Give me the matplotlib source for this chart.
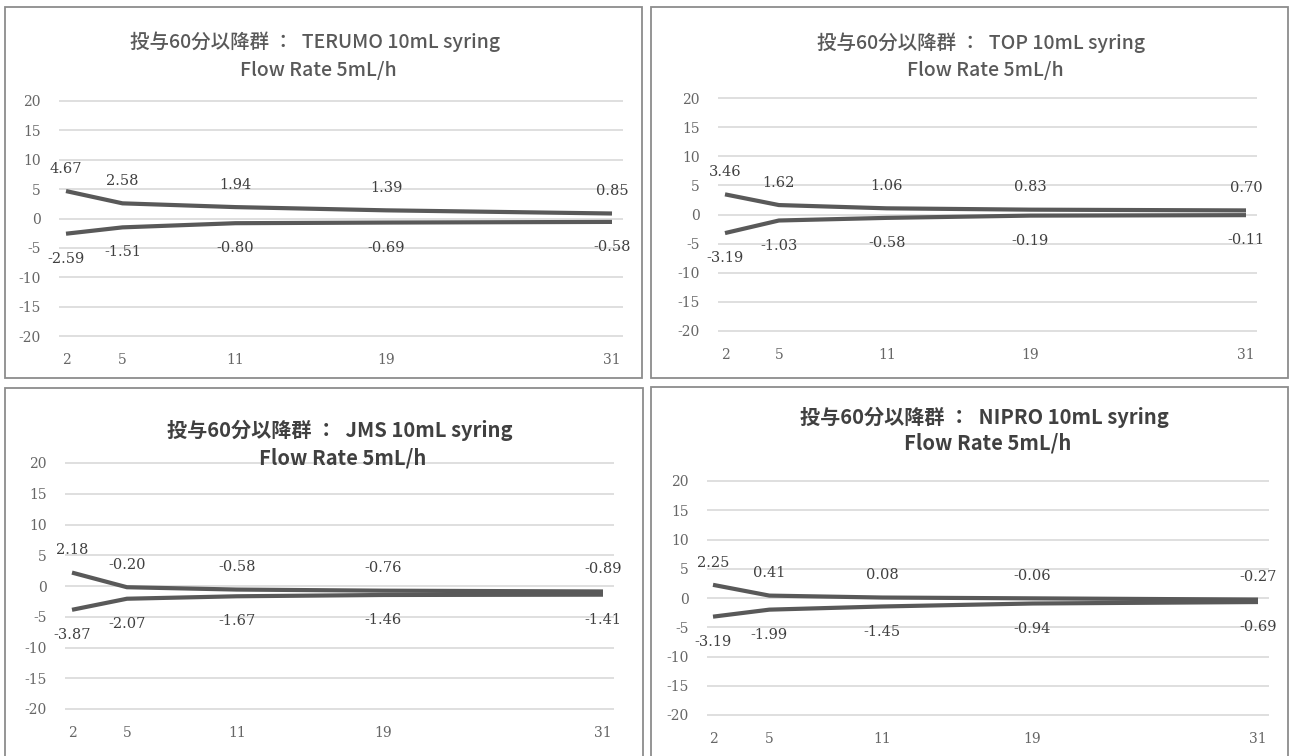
import matplotlib
matplotlib.use("Agg")
import matplotlib.pyplot as plt

plt.rcParams['axes.unicode_minus'] = False

W, H = 1290, 756

# data
days = [2, 5, 11, 19, 31]

terumo_upper = [4.67, 2.58, 1.94, 1.39, 0.85]
terumo_lower = [-2.59, -1.51, -0.80, -0.69, -0.58]
top_upper = [3.46, 1.62, 1.06, 0.83, 0.70]
top_lower = [-3.19, -1.03, -0.58, -0.19, -0.11]
jms_upper = [2.18, -0.20, -0.58, -0.76, -0.89]
jms_lower = [-3.87, -2.07, -1.67, -1.46, -1.41]
nipro_upper = [2.25, 0.41, 0.08, -0.06, -0.27]
nipro_lower = [-3.19, -1.99, -1.45, -0.94, -0.69]

titles = ['投与60分以降群 ：  TERUMO 10mL syring',
          '投与60分以降群 ：  TOP 10mL syring',
          '投与60分以降群 ：  JMS 10mL syring',
          '投与60分以降群 ：  NIPRO 10mL syring']
subtitle = 'Flow Rate 5mL/h'
yticks = [-20, -15, -10, -5, 0, 5, 10, 15, 20]

series = [(terumo_upper, terumo_lower), (top_upper, top_lower),
          (jms_upper, jms_lower), (nipro_upper, nipro_lower)]

# layout in pixels: border box, grid x extent, x of day 2 / day 31, y of +20 / -20, title centres
layout = [
    dict(box=(5, 7, 642, 378), gx=(59, 623), xp=(66, 612), yp=(101, 336),
         t1=(315, 42), t2=(318, 70), bold=False),
    dict(box=(651, 7, 1288, 378), gx=(718, 1257), xp=(725, 1246), yp=(98, 331),
         t1=(981, 43), t2=(985, 71), bold=False),
    dict(box=(5, 388, 643, 760), gx=(65, 614), xp=(72, 603), yp=(463, 709),
         t1=(340, 430), t2=(343, 458), bold=True),
    dict(box=(651, 387, 1288, 760), gx=(707, 1269), xp=(713, 1258), yp=(481, 715),
         t1=(984, 417), t2=(988, 443), bold=True),
]

fig = plt.figure(figsize=(W / 100, H / 100), dpi=100)

line_color = '#595959'
tick_color = '#666666'
label_color = '#404040'
title_fam = ['Noto Sans CJK JP', 'DejaVu Sans']
num_fam = ['DejaVu Serif']

for (upper, lower), title, lay in zip(series, titles, layout):
    bx0, by0, bx1, by1 = lay['box']
    fig.add_artist(plt.Rectangle((bx0 / W, 1 - by1 / H), (bx1 - bx0) / W, (by1 - by0) / H,
                                 transform=fig.transFigure, fill=False,
                                 ec='#8c8c8c', lw=1.3))

    gx0, gx1 = lay['gx']
    x2, x31 = lay['xp']
    y20, ym20 = lay['yp']
    sx = (x31 - x2) / (days[-1] - days[0])
    sy = (ym20 - y20) / 40
    top_px = y20 - sy
    bot_px = ym20 + sy
    ax = fig.add_axes([gx0 / W, 1 - bot_px / H, (gx1 - gx0) / W, (bot_px - top_px) / H])
    ax.set_xlim(days[0] - (x2 - gx0) / sx, days[0] + (gx1 - x2) / sx)
    ax.set_ylim(-21, 21)

    ax.plot(days, upper, color=line_color, lw=3, solid_capstyle='butt', zorder=3)
    ax.plot(days, lower, color=line_color, lw=3, solid_capstyle='butt', zorder=3)

    for x, v in zip(days, upper):
        ax.annotate(f'{v:.2f}', (x, v), xytext=(0, 11), textcoords='offset points',
                    ha='center', va='bottom', fontsize=10.5, color=label_color,
                    family=num_fam, zorder=4)
    for x, v in zip(days, lower):
        ax.annotate(f'{v:.2f}', (x, v), xytext=(0, -13), textcoords='offset points',
                    ha='center', va='top', fontsize=10.5, color=label_color,
                    family=num_fam, zorder=4)

    ax.set_yticks(yticks)
    ax.set_xticks(days)
    ax.set_xticklabels([str(d) for d in days])
    ax.yaxis.grid(True, color='#d9d9d9', lw=1.2)
    ax.set_axisbelow(True)
    for s in ax.spines.values():
        s.set_visible(False)
    ax.tick_params(axis='y', length=0, pad=13, labelsize=10, labelcolor=tick_color)
    ax.tick_params(axis='x', length=0, pad=8, labelsize=10, labelcolor=tick_color)
    for t in ax.get_xticklabels() + ax.get_yticklabels():
        t.set_family(num_fam)

    weight = 'bold' if lay['bold'] else 'medium'
    tcol = '#404040' if lay['bold'] else '#595959'
    tsize = 14.5 if lay['bold'] else 14
    fig.text(lay['t1'][0] / W, 1 - lay['t1'][1] / H, title, ha='center', va='center',
             fontsize=tsize, family=title_fam, weight=weight, color=tcol)
    fig.text(lay['t2'][0] / W, 1 - lay['t2'][1] / H, subtitle, ha='center', va='center',
             fontsize=tsize, family=title_fam, weight=weight, color=tcol)

fig.savefig('out.png', dpi=100)
